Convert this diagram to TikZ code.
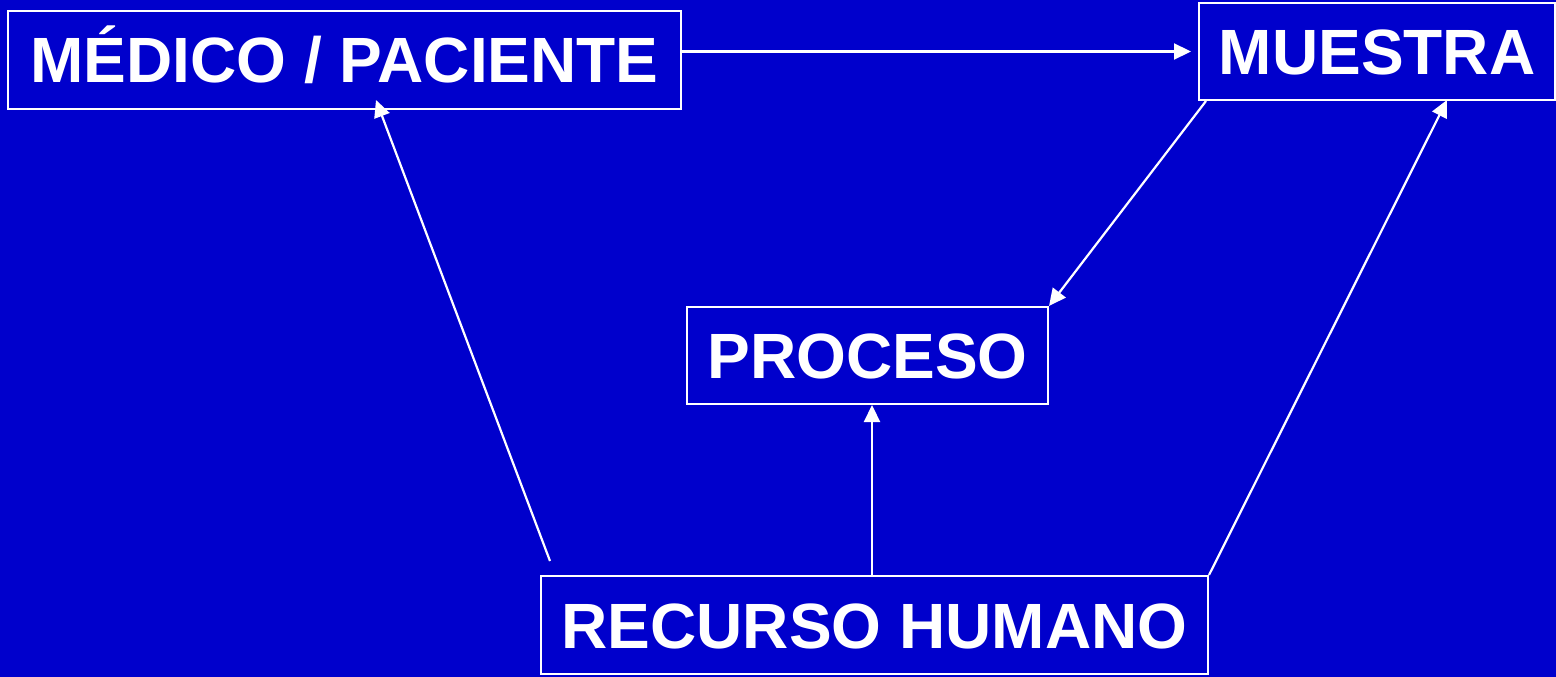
\documentclass[tikz,border=0pt]{standalone}
\usepackage{fontspec}
\setmainfont{Liberation Sans}
\usepackage{tikz}
\usetikzlibrary{arrows.meta}
\definecolor{fondo}{RGB}{0,0,204}
\tikzset{flujo/.style={draw=white, line width=2pt, text=white, inner sep=0pt, text height=46pt, text depth=0pt, font=\fontsize{64}{77}\selectfont\bfseries}}
\tikzset{flecha/.style={draw=white, line width=2.2pt, -{Triangle[length=17pt,width=16pt]}}}
\newcommand{\flbox}[5] {\node at (#1) (#2) [flujo, minimum width=#3pt, minimum height=#4pt] {#5};}
\newcommand{\flarrow}[2] {\draw [flecha] (#1) -- (#2);}

\begin{document}
\begin{tikzpicture}[x=1pt,y=-1pt]
\fill [fondo] (0,0) rectangle (1556,677);
\useasboundingbox (0,0) rectangle (1556,677);

\flbox {344.5,60} {medico} {673} {98} {MÉDICO / PACIENTE};
\flbox {1377,51.5} {muestra} {356} {97} {MUESTRA};
\flbox {867.5,355.5} {proceso} {361} {97} {PROCESO};
\flbox {874.5,625} {recurso} {667} {98} {RECURSO HUMANO};

\coordinate (mdin) at (medico.east |- muestra.west);
\coordinate (msin) at ([xshift=-7pt]muestra.west);
\coordinate (msout) at ([xshift=8pt]muestra.south west);
\coordinate (rhleft) at ([shift={(10,-14)}]recurso.north west);
\coordinate (mdtip) at ([shift={(31.5,-10)}]medico.south);
\coordinate (pctip) at ([xshift=4.5pt]proceso.south);
\coordinate (rhmid) at (pctip |- recurso.north);
\coordinate (mstip) at ([shift={(70,-1)}]muestra.south);

\flarrow{mdin}{msin};
\flarrow{msout}{proceso.north east};
\flarrow{rhleft}{mdtip};
\flarrow{rhmid}{pctip};
\flarrow{recurso.north east}{mstip};
\end{tikzpicture}
\end{document}
